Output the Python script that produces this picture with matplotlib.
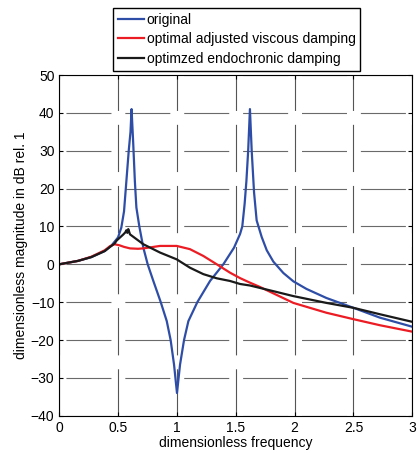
import numpy as np
from matplotlib import pyplot as plt

plt.rcParams['font.family'] = ['Liberation Sans', 'DejaVu Sans']
plt.rcParams['lines.scale_dashes'] = False

# original system
f_orig = [0.0, 0.159, 0.272, 0.386, 0.442, 0.499, 0.527, 0.55, 0.565, 0.59,
          0.605, 0.614, 0.628, 0.642, 0.655, 0.68, 0.714, 0.751, 0.799, 0.862,
          0.913, 0.946, 0.975, 1.0, 1.026, 1.06, 1.097, 1.173, 1.281, 1.394,
          1.485, 1.536, 1.555, 1.575, 1.59, 1.605, 1.62, 1.635, 1.655, 1.677,
          1.72, 1.763, 1.819, 1.904, 1.989, 2.10, 2.27, 2.50, 2.725, 3.0]
m_orig = [0.0, 0.9, 1.9, 3.5, 4.9, 7.1, 9.7, 14.0, 20.0, 30.0,
          35.0, 41.0, 32.0, 22.0, 15.0, 10.0, 4.4, 0.0, -4.4, -10.0,
          -15.0, -20.0, -26.5, -34.0, -26.5, -20.0, -15.0, -10.0, -4.4, 0.0,
          4.4, 8.0, 10.0, 16.0, 22.0, 30.0, 41.0, 30.0, 19.0, 11.6,
          7.2, 3.7, 0.7, -2.3, -4.5, -6.5, -8.9, -11.5, -14.1, -16.5]

# optimal adjusted viscous damping
f_visc = [0.0, 0.159, 0.272, 0.386, 0.431, 0.47, 0.513, 0.55, 0.601, 0.669,
          0.714, 0.856, 0.998, 1.11, 1.224, 1.338, 1.45, 1.536, 1.62, 1.706,
          1.989, 2.27, 2.5, 2.725, 3.0]
m_visc = [0.0, 0.9, 2.0, 3.7, 4.8, 5.3, 5.0, 4.6, 4.2, 4.1,
          4.2, 4.85, 4.85, 4.0, 2.2, 0.0, -2.2, -3.65, -4.85, -6.0,
          -10.2, -12.8, -14.5, -16.1, -17.8]

# optimized endochronic damping
f_endo = [0.0, 0.159, 0.272, 0.386, 0.431, 0.47, 0.488, 0.541, 0.56, 0.57,
          0.578, 0.586, 0.601, 0.714, 0.856, 0.998, 1.11, 1.224, 1.338, 1.45,
          1.536, 1.62, 1.819, 1.989, 2.27, 2.5, 2.725, 3.0]
m_endo = [0.0, 0.9, 1.9, 3.5, 4.6, 5.5, 6.3, 7.8, 8.4, 9.0,
          8.3, 9.3, 7.9, 5.3, 3.1, 1.3, -0.9, -2.6, -3.7, -4.4,
          -5.2, -5.6, -7.1, -8.4, -10.2, -11.5, -13.2, -15.2]

fig = plt.figure(figsize=(4.18, 4.53), dpi=100)
ax = fig.add_axes([0.1419, 0.0823, 0.8445, 0.7521])

ax.plot(f_orig, m_orig, color='#2e4da6', lw=1.6, label='original')
ax.plot(f_visc, m_visc, color='#ec1c24', lw=1.6, label='optimal adjusted viscous damping')
ax.plot(f_endo, m_endo, color='#1a1a1a', lw=1.6, label='optimzed endochronic damping')

ax.set_xlim(0, 3)
ax.set_ylim(-40, 50)
ax.set_xticks(np.arange(0, 3.01, 0.5))
ax.set_xticklabels(['0', '0.5', '1', '1.5', '2', '2.5', '3'])
ax.set_yticks(np.arange(-40, 51, 10))
ax.tick_params(direction='in', top=True, right=True, labelsize=10, length=3)
# matlab-like broken grid
ax.grid(True, axis='y', color='#6a6a6a', lw=0.8, linestyle=(37.4, (32.4, 10)))
ax.grid(True, axis='x', color='#555555', lw=0.8, linestyle=(0, (34, 10)))
ax.set_xlabel('dimensionless frequency', fontsize=10, labelpad=1)
ax.set_ylabel('dimensionless magnitude in dB rel. 1', fontsize=10, labelpad=2)

fig.legend(loc='upper center', bbox_to_anchor=(0.566, 0.983), fontsize=10,
           fancybox=False, edgecolor='black', framealpha=1, handlelength=1.9,
           handletextpad=0.2, borderpad=0.35, labelspacing=0.4, borderaxespad=0)

fig.savefig('out.png', dpi=100)
